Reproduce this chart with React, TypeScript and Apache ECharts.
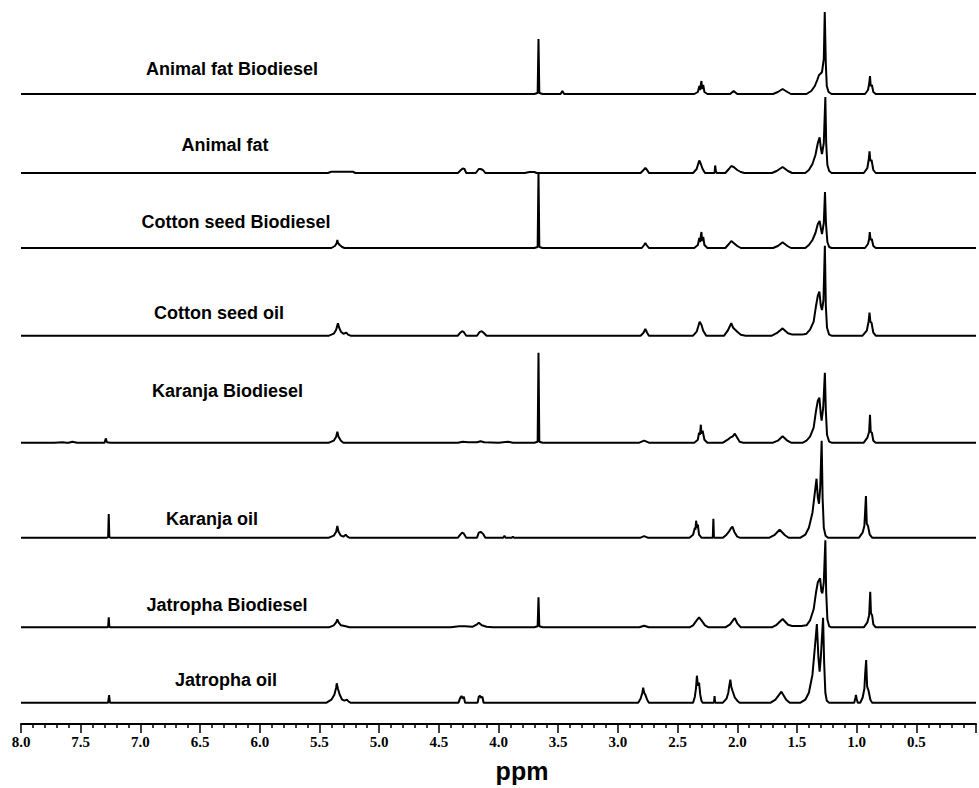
import React, { useEffect, useRef } from "react";
import * as echarts from "echarts";

// Sample names (top to bottom)
const sampleNames = [
  "Animal fat Biodiesel",
  "Animal fat",
  "Cotton seed Biodiesel",
  "Cotton seed oil",
  "Karanja Biodiesel",
  "Karanja oil",
  "Jatropha Biodiesel",
  "Jatropha oil",
];

// vertical stacking offsets (intensity units)
const offsets = [630, 551, 476, 388.3, 281.3, 186.3, 96.7, 21.3];

// x axis (chemical shift, ppm)
const ppmMin = 0;
const ppmMax = 8;
const ppmStep = 0.5;

// Spectra: [ppm, intensity]
const animalFatBiodiesel: number[][] = [
  [8.0, 0],
  [3.7, 0], [3.672, 1], [3.665, 55], [3.658, 1], [3.63, 0],
  [3.48, 0], [3.465, 3], [3.45, 0],
  [2.36, 0], [2.33, 2], [2.318, 8], [2.312, 4], [2.3, 13], [2.295, 5], [2.285, 9], [2.275, 2], [2.25, 0],
  [2.06, 0], [2.03, 3], [2.0, 0],
  [1.7, 0], [1.66, 2], [1.62, 5], [1.58, 2], [1.55, 0],
  [1.42, 0], [1.38, 3], [1.35, 8], [1.33, 14], [1.315, 19], [1.305, 20], [1.29, 22], [1.275, 35], [1.267, 82], [1.258, 30], [1.25, 8], [1.235, 2], [1.21, 0],
  [0.93, 0], [0.905, 4], [0.895, 10], [0.888, 18], [0.882, 8], [0.872, 9], [0.86, 2], [0.84, 0],
  [0.0, 0],
];

const animalFat: number[][] = [
  [8.0, 0],
  [5.43, 0], [5.4, 1.3], [5.22, 1.3], [5.2, 0],
  [4.34, 0], [4.315, 3], [4.3, 4.5], [4.285, 4], [4.27, 0],
  [4.19, 0], [4.165, 4], [4.15, 4], [4.13, 3], [4.11, 0],
  [3.78, 0], [3.74, 1], [3.7, 1], [3.68, 0],
  [2.81, 0], [2.785, 3], [2.77, 5], [2.755, 3], [2.74, 0],
  [2.37, 0], [2.34, 4], [2.325, 10], [2.318, 12.5], [2.305, 9], [2.29, 4], [2.27, 0],
  [2.19, 0], [2.185, 7.5], [2.178, 1], [2.17, 0],
  [2.1, 0], [2.07, 4], [2.05, 7], [2.03, 6], [2.0, 3], [1.97, 1], [1.94, 0],
  [1.71, 0], [1.67, 2], [1.62, 6], [1.575, 2], [1.54, 0],
  [1.43, 0], [1.4, 3], [1.37, 9], [1.345, 18], [1.325, 30], [1.31, 35.6], [1.3, 25], [1.29, 19], [1.275, 30], [1.262, 76], [1.255, 30], [1.245, 8], [1.23, 2], [1.21, 0],
  [0.94, 0], [0.91, 5], [0.898, 14], [0.892, 21.6], [0.885, 12], [0.875, 13], [0.86, 3], [0.84, 0],
  [0.0, 0],
];

const cottonSeedBiodiesel: number[][] = [
  [8.0, 0],
  [5.4, 0], [5.37, 2], [5.355, 5], [5.35, 8], [5.345, 5], [5.33, 3], [5.31, 1], [5.29, 0],
  [3.7, 0], [3.672, 1], [3.665, 76], [3.658, 1], [3.63, 0],
  [2.8, 0], [2.78, 3], [2.77, 5], [2.76, 3], [2.74, 0],
  [2.36, 0], [2.33, 3], [2.318, 10], [2.312, 6], [2.3, 16], [2.295, 7], [2.285, 11], [2.275, 3], [2.25, 0],
  [2.1, 0], [2.07, 4], [2.05, 7], [2.03, 5], [2.0, 2], [1.97, 0],
  [1.7, 0], [1.66, 2], [1.62, 5.7], [1.58, 2], [1.55, 0],
  [1.43, 0], [1.4, 3], [1.37, 8], [1.345, 15], [1.325, 24], [1.31, 27], [1.3, 20], [1.29, 14], [1.275, 25], [1.265, 56], [1.257, 25], [1.245, 6], [1.23, 1], [1.21, 0],
  [0.93, 0], [0.905, 4], [0.895, 9], [0.89, 16], [0.883, 8], [0.873, 9], [0.86, 2], [0.84, 0],
  [0.0, 0],
];

const cottonSeedOil: number[][] = [
  [8.0, 0],
  [5.42, 0], [5.38, 2], [5.36, 6], [5.345, 12.4], [5.335, 8], [5.32, 4], [5.3, 2], [5.275, 3], [5.26, 1], [5.24, 0],
  [4.34, 0], [4.32, 3], [4.305, 4.5], [4.29, 3.5], [4.27, 0],
  [4.18, 0], [4.16, 3.5], [4.14, 4.5], [4.125, 3], [4.1, 0],
  [2.81, 0], [2.785, 3], [2.77, 6.7], [2.755, 3], [2.74, 0],
  [2.37, 0], [2.34, 4], [2.325, 10], [2.315, 14], [2.3, 11], [2.285, 5], [2.26, 0],
  [2.11, 0], [2.08, 5], [2.06, 10], [2.05, 12.5], [2.035, 8], [2.0, 4], [1.97, 1], [1.93, 0],
  [1.71, 0], [1.67, 2.5], [1.62, 7.3], [1.575, 2.5], [1.54, 1.2], [1.46, 1.2],
  [1.44, 1.5], [1.42, 2], [1.39, 6], [1.36, 14], [1.34, 30], [1.325, 40], [1.312, 44], [1.3, 30], [1.29, 25.7], [1.278, 35], [1.266, 90], [1.258, 30], [1.248, 8], [1.23, 1], [1.21, 0],
  [0.95, 0], [0.915, 5], [0.9, 14], [0.892, 23], [0.885, 14], [0.875, 13], [0.86, 3], [0.84, 0],
  [0.0, 0],
];

const karanjaBiodiesel: number[][] = [
  [8.0, 0], [7.72, 0], [7.65, 0.5], [7.62, 0], [7.6, 0], [7.57, 1], [7.53, 0],
  [7.3, 0], [7.29, 4.3], [7.28, 0.5], [7.25, 0],
  [5.42, 0], [5.38, 2], [5.36, 6], [5.35, 11], [5.34, 6], [5.32, 2], [5.3, 0],
  [4.34, 0], [4.3, 1], [4.25, 0.5], [4.18, 0.5], [4.15, 1.5], [4.12, 0.5], [4.0, 0], [3.92, 1], [3.88, 0],
  [3.7, 0], [3.672, 1], [3.665, 90], [3.658, 1], [3.63, 0],
  [2.82, 0], [2.78, 2], [2.74, 0],
  [2.36, 0], [2.33, 3], [2.32, 10], [2.312, 8], [2.305, 18], [2.3, 9], [2.29, 12], [2.275, 3], [2.25, 0],
  [2.12, 0], [2.08, 3], [2.06, 5], [2.04, 6], [2.02, 9], [2.0, 5], [1.98, 1], [1.95, 0],
  [1.7, 0], [1.66, 2], [1.62, 6.5], [1.58, 2], [1.55, 0],
  [1.45, 0], [1.42, 2], [1.39, 6], [1.36, 15], [1.34, 32], [1.325, 42], [1.312, 45], [1.3, 28], [1.293, 22], [1.28, 35], [1.266, 70], [1.258, 32], [1.248, 8], [1.23, 1], [1.21, 0],
  [0.94, 0], [0.91, 5], [0.895, 11], [0.888, 28], [0.882, 11], [0.872, 10], [0.86, 2], [0.84, 0],
  [0.0, 0],
];

const karanjaOil: number[][] = [
  [8.0, 0],
  [7.28, 0], [7.27, 0.5], [7.265, 23.7], [7.26, 0.5], [7.25, 0],
  [5.42, 0], [5.38, 2], [5.36, 6], [5.35, 11.7], [5.34, 6], [5.32, 2], [5.3, 1], [5.28, 3], [5.265, 1], [5.25, 0],
  [4.34, 0], [4.32, 3], [4.305, 5], [4.29, 4], [4.27, 0],
  [4.18, 0], [4.165, 5], [4.15, 5.8], [4.13, 4], [4.11, 0],
  [3.96, 0], [3.95, 2], [3.94, 0],
  [3.89, 0], [3.88, 1], [3.87, 0],
  [2.81, 0], [2.78, 1.5], [2.75, 0],
  [2.4, 0], [2.37, 3], [2.355, 10], [2.35, 8], [2.345, 17], [2.335, 10], [2.33, 13], [2.32, 3], [2.3, 0],
  [2.205, 0], [2.2, 19], [2.195, 0],
  [2.12, 0], [2.09, 3], [2.07, 6], [2.05, 10], [2.04, 11], [2.025, 6], [2.0, 1], [1.98, 0],
  [1.73, 0], [1.69, 2.5], [1.645, 8], [1.6, 2.5], [1.57, 0],
  [1.47, 0], [1.43, 3], [1.4, 10], [1.37, 25], [1.35, 45], [1.336, 59], [1.325, 40], [1.315, 34], [1.305, 50], [1.293, 97], [1.285, 40], [1.275, 10], [1.26, 2], [1.24, 0],
  [0.98, 0], [0.95, 5], [0.935, 12], [0.922, 41.7], [0.915, 14], [0.905, 12], [0.89, 3], [0.87, 0],
  [0.0, 0],
];

const jatrophaBiodiesel: number[][] = [
  [8.0, 0],
  [7.28, 0], [7.27, 0.5], [7.265, 10], [7.26, 0.5], [7.25, 0],
  [5.42, 0], [5.38, 2], [5.36, 5], [5.35, 8], [5.34, 5], [5.32, 2], [5.28, 1], [5.25, 0],
  [4.4, 0], [4.33, 1], [4.28, 1], [4.22, 0.5], [4.18, 3], [4.165, 4.5], [4.14, 2], [4.1, 0.5], [4.05, 0],
  [3.7, 0], [3.672, 1], [3.665, 30], [3.658, 1], [3.63, 0],
  [2.82, 0], [2.78, 1.5], [2.74, 0],
  [2.4, 0], [2.37, 2], [2.34, 7], [2.32, 10], [2.3, 7], [2.27, 2], [2.24, 0],
  [2.1, 0], [2.06, 3], [2.03, 8], [2.02, 9], [2.0, 4], [1.97, 0],
  [1.71, 0], [1.67, 2.5], [1.62, 8.3], [1.575, 2.5], [1.54, 1.3], [1.46, 1.3],
  [1.45, 1.5], [1.42, 2], [1.39, 7], [1.36, 18], [1.34, 35], [1.325, 45], [1.306, 49], [1.295, 36], [1.287, 34], [1.275, 45], [1.262, 87], [1.255, 35], [1.245, 8], [1.23, 1], [1.21, 0],
  [0.94, 0], [0.91, 5], [0.895, 12], [0.886, 35.6], [0.88, 14], [0.87, 12], [0.86, 3], [0.84, 0],
  [0.0, 0],
];

const jatrophaOil: number[][] = [
  [8.0, 0],
  [7.27, 0], [7.262, 7.7], [7.255, 0],
  [5.44, 0], [5.4, 3], [5.375, 8], [5.36, 15], [5.355, 19.4], [5.345, 14], [5.33, 8], [5.31, 3], [5.29, 2], [5.27, 3], [5.255, 1], [5.24, 0],
  [4.335, 0], [4.32, 5], [4.31, 6.7], [4.3, 4], [4.29, 6], [4.28, 0],
  [4.175, 0], [4.165, 6], [4.155, 7], [4.145, 5], [4.135, 6], [4.125, 0],
  [2.83, 0], [2.81, 4], [2.795, 10], [2.788, 15], [2.78, 10], [2.77, 8], [2.755, 3], [2.74, 0],
  [2.37, 0], [2.355, 6], [2.345, 15], [2.338, 27], [2.33, 17], [2.32, 20], [2.31, 8], [2.3, 2], [2.29, 0],
  [2.195, 0], [2.19, 6.7], [2.185, 0],
  [2.12, 0], [2.09, 4], [2.075, 10], [2.065, 18], [2.058, 23], [2.05, 16], [2.04, 12], [2.02, 5], [2.0, 2], [1.98, 0],
  [1.72, 0], [1.68, 3], [1.63, 11], [1.59, 3], [1.56, 0],
  [1.47, 0], [1.43, 3], [1.4, 10], [1.37, 28], [1.35, 55], [1.333, 78.7], [1.32, 45], [1.31, 31], [1.3, 45], [1.281, 85], [1.272, 40], [1.262, 10], [1.25, 2], [1.23, 0],
  [1.02, 0], [1.01, 5], [1.006, 7.7], [1.0, 4], [0.99, 0],
  [0.97, 0], [0.95, 5], [0.935, 14], [0.928, 30], [0.92, 42.7], [0.912, 16], [0.9, 12], [0.885, 3], [0.87, 0],
  [0.0, 0],
];

const spectra = [
  animalFatBiodiesel,
  animalFat,
  cottonSeedBiodiesel,
  cottonSeedOil,
  karanjaBiodiesel,
  karanjaOil,
  jatrophaBiodiesel,
  jatrophaOil,
];

// label layout (pixel centres)
const labelLayout = [
  [232, 69],
  [225, 144.5],
  [236, 222],
  [219, 313],
  [227.5, 390.5],
  [212, 518.7],
  [227, 604.7],
  [226, 679.5],
];

export default function App() {
  const ref = useRef<HTMLDivElement>(null);
  useEffect(() => {
    if (!ref.current) return;
    const chart = echarts.init(ref.current, null, { renderer: "svg" });
    const sansBold = 'bold 18px "Liberation Sans", Arial, Helvetica, sans-serif';
    chart.setOption({
      animation: false,
      backgroundColor: "#ffffff",
      grid: { left: 21, right: -10, top: 0, bottom: 64, containLabel: false },
      xAxis: {
        type: "value",
        inverse: true,
        min: ppmMin,
        max: ppmMax,
        interval: ppmStep,
        axisLine: { show: true, onZero: false, lineStyle: { color: "#000", width: 2 } },
        axisTick: { show: true, inside: false, length: 9, lineStyle: { color: "#000", width: 1.5 } },
        minorTick: { show: true, splitNumber: 5, length: 4, lineStyle: { color: "#000", width: 1.5 } },
        splitLine: { show: false },
        minorSplitLine: { show: false },
        axisLabel: {
          margin: 10,
          color: "#000",
          fontFamily: '"Liberation Serif", "Times New Roman", serif',
          fontWeight: "bold",
          fontSize: 15,
          formatter: (v: number) => (v === 0 ? "" : v.toFixed(1)),
        },
      },
      yAxis: {
        type: "value",
        min: 0,
        max: 724,
        show: false,
        splitLine: { show: false },
      },
      series: spectra.map((s, i) => ({
        name: sampleNames[i],
        type: "line",
        showSymbol: false,
        symbol: "none",
        silent: true,
        lineStyle: { color: "#000", width: 2 },
        data: s.map(([p, v]) => [p, v + offsets[i]]),
      })),
      graphic: [
        ...sampleNames.map((name, i) => ({
          type: "text",
          x: labelLayout[i][0],
          y: labelLayout[i][1],
          style: {
            text: name,
            fill: "#000",
            font: sansBold,
            align: "center",
            verticalAlign: "middle",
          },
        })),
        {
          type: "text",
          x: 522,
          y: 771,
          style: {
            text: "ppm",
            fill: "#000",
            font: 'bold 25px "Liberation Sans", Arial, Helvetica, sans-serif',
            align: "center",
            verticalAlign: "middle",
          },
        },
      ],
    });
    return () => chart.dispose();
  }, []);
  return (
    <div
      ref={ref}
      style={{ position: "absolute", left: 0, top: 0, width: 979, height: 788, background: "#fff" }}
    />
  );
}
